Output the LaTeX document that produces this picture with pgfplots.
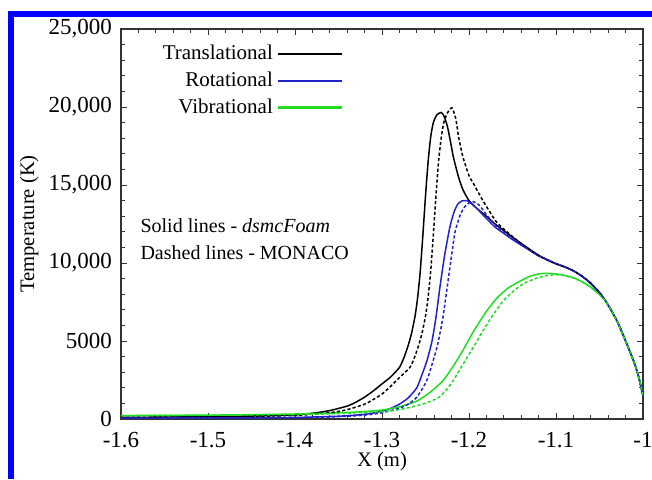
\documentclass[border=0pt]{standalone}
\usepackage{fontspec}
\setmainfont{Liberation Serif}
\usepackage{pgfplots}
\pgfplotsset{compat=1.18}
\definecolor{frameblue}{HTML}{0000FF}
\definecolor{rotblue}{HTML}{2222CC}
\definecolor{vibgreen}{HTML}{22DD22}
\definecolor{axisgray}{HTML}{333333}
\tikzset{
  mdash/.style={dash pattern=on 1.6pt off 1.1pt},
  tcurve/.style={line width=0.75pt, smooth, tension=0.35},
}
\begin{document}
\begin{tikzpicture}
\useasboundingbox (0,0) rectangle (326pt,239.5pt);
\fill[white] (0,0) rectangle (326pt,239.5pt);
\fill[frameblue] (4pt,231pt) rectangle (326pt,234pt);
\fill[frameblue] (4pt,0pt) rectangle (7pt,234pt);
\begin{axis}[
  at={(60.5pt,30pt)}, anchor=south west,
  width=261pt, height=195pt, scale only axis,
  xmin=-1.6, xmax=-1, ymin=0, ymax=25000,
  xtick={-1.6,-1.5,-1.4,-1.3,-1.2,-1.1,-1},
  xticklabels={-1.6,-1.5,-1.4,-1.3,-1.2,-1.1,-1},
  ytick={0,5000,10000,15000,20000,25000},
  yticklabels={0,5000,{10,000},{15,000},{20,000},{25,000}},
  minor x tick num=4, minor y tick num=4,
  tick align=inside, major tick length=3pt, minor tick length=1.8pt,
  axis line style={axisgray, line width=0.6pt},
  every tick/.style={axisgray, line width=0.5pt},
  tick label style={font=\fontsize{11.5}{13}\selectfont, black},
  xticklabel style={yshift=-3pt},
  yticklabel style={xshift=-1pt},
  scaled y ticks=false,
  xlabel={X (m)}, ylabel={Temperature (K)},
  label style={font=\fontsize{10.3}{12}\selectfont},
  xlabel style={at={(axis description cs:0.5,-0.11)}, anchor=center},
  ylabel style={at={(axis description cs:-0.176,0.5)}, anchor=center},
  legend style={at={(axis description cs:0.43,0.975)}, anchor=north east, draw=none, fill=none,
    font=\fontsize{10.5}{12}\selectfont, row sep=0.6pt, inner sep=1pt},
  legend cell align=right, legend plot pos=right,
  legend image code/.code={\draw[#1] (0pt,0pt) -- (32pt,0pt);},
]
% solid: dsmcFoam
\addplot[black, tcurve, forget plot] coordinates {
(-1.600,100) (-1.550,120) (-1.500,150) (-1.450,190) (-1.400,270) (-1.380,370) (-1.360,540)
(-1.340,830) (-1.330,1080) (-1.320,1400) (-1.310,1800) (-1.300,2250) (-1.290,2700) (-1.280,3300)
(-1.275,3900) (-1.270,4700) (-1.266,5500) (-1.262,6600) (-1.259,7800) (-1.256,9500) (-1.253,11800)
(-1.250,14300) (-1.247,16500) (-1.244,18100) (-1.241,19000) (-1.237,19500) (-1.232,19650)
(-1.229,19450) (-1.225,18800) (-1.221,17700) (-1.218,16800) (-1.212,15500) (-1.207,14700)
(-1.200,14000) (-1.191,13500) (-1.180,13000) (-1.170,12500) (-1.160,12080) (-1.150,11650)
(-1.140,11250) (-1.130,10870) (-1.120,10500) (-1.110,10200) (-1.100,9950) (-1.090,9750)
(-1.080,9500) (-1.070,9150) (-1.060,8700) (-1.050,8100) (-1.044,7650) (-1.040,7300)
(-1.030,6300) (-1.020,5000) (-1.010,3600) (-1.005,2700) (-1.000,1500)};
\addplot[rotblue, tcurve, forget plot] coordinates {
(-1.600,60) (-1.500,70) (-1.450,80) (-1.400,100) (-1.350,180) (-1.320,300) (-1.300,500)
(-1.290,680) (-1.280,950) (-1.270,1350) (-1.260,2000) (-1.253,3000) (-1.248,3800) (-1.2425,5000)
(-1.238,6500) (-1.2333,8500) (-1.228,10500) (-1.222,12300) (-1.217,13300) (-1.2126,13800)
(-1.208,13980) (-1.203,14000) (-1.198,13850) (-1.191,13500) (-1.180,12850) (-1.170,12300)
(-1.160,11900) (-1.150,11500) (-1.140,11150) (-1.130,10800) (-1.120,10450) (-1.110,10200)
(-1.100,9950) (-1.090,9750) (-1.080,9500) (-1.070,9150) (-1.060,8700) (-1.050,8100)
(-1.044,7650) (-1.040,7300) (-1.030,6300) (-1.020,5000) (-1.010,3600) (-1.005,2700) (-1.000,1500)};
\addplot[vibgreen, tcurve, forget plot] coordinates {
(-1.600,220) (-1.500,250) (-1.450,280) (-1.400,320) (-1.350,400) (-1.320,480) (-1.300,580)
(-1.280,780) (-1.260,1150) (-1.245,1700) (-1.230,2450) (-1.218,3400) (-1.207,4400) (-1.195,5600)
(-1.180,6900) (-1.168,7750) (-1.155,8400) (-1.141,8850) (-1.130,9150) (-1.120,9300) (-1.110,9340)
(-1.100,9300) (-1.090,9200) (-1.080,9050) (-1.070,8800) (-1.060,8450) (-1.050,7980) (-1.044,7640)
(-1.040,7300) (-1.030,6300) (-1.020,5000) (-1.010,3600) (-1.005,2700) (-1.000,1500)};
% dashed: MONACO
\addplot[black, tcurve, mdash, forget plot] coordinates {
(-1.600,100) (-1.500,140) (-1.450,170) (-1.400,230) (-1.380,300) (-1.360,400) (-1.340,600)
(-1.320,950) (-1.310,1250) (-1.300,1600) (-1.290,2100) (-1.280,2650) (-1.268,3300) (-1.263,3900)
(-1.258,4700) (-1.254,5500) (-1.250,6600) (-1.247,7800) (-1.244,9500) (-1.241,11800)
(-1.238,14300) (-1.235,16500) (-1.232,18000) (-1.229,19000) (-1.225,19600) (-1.2195,19950)
(-1.215,19200) (-1.212,18100) (-1.207,16800) (-1.200,15600) (-1.195,15100) (-1.184,14000)
(-1.168,12600) (-1.149,11650) (-1.140,11250) (-1.130,10850) (-1.120,10480) (-1.110,10200)
(-1.100,9950) (-1.090,9750) (-1.080,9500) (-1.070,9150) (-1.060,8700) (-1.050,8100)
(-1.044,7650) (-1.040,7300) (-1.030,6300) (-1.020,5000) (-1.010,3600) (-1.005,2700) (-1.000,1500)};
\addplot[rotblue, tcurve, mdash, forget plot] coordinates {
(-1.600,60) (-1.500,70) (-1.400,90) (-1.350,150) (-1.320,250) (-1.300,400) (-1.280,700)
(-1.270,950) (-1.260,1400) (-1.2483,2500) (-1.2368,4600) (-1.230,6500) (-1.2247,8600)
(-1.220,10500) (-1.216,12000) (-1.210,13100) (-1.205,13600) (-1.200,13850) (-1.195,13930)
(-1.188,13700) (-1.180,13100) (-1.170,12450) (-1.160,11980) (-1.150,11550) (-1.140,11180)
(-1.130,10820) (-1.120,10470) (-1.110,10220) (-1.100,9970) (-1.090,9760) (-1.080,9500)
(-1.070,9130) (-1.060,8680) (-1.050,8080) (-1.044,7640) (-1.040,7290) (-1.030,6300)
(-1.020,5000) (-1.010,3600) (-1.005,2700) (-1.000,1500)};
\addplot[vibgreen, tcurve, mdash, forget plot] coordinates {
(-1.600,220) (-1.500,240) (-1.400,290) (-1.350,350) (-1.300,470) (-1.280,600) (-1.260,850)
(-1.245,1120) (-1.233,1450) (-1.220,2300) (-1.207,3500) (-1.195,4600) (-1.184,5650)
(-1.172,6700) (-1.161,7550) (-1.150,8150) (-1.140,8580) (-1.133,8800) (-1.120,9070)
(-1.110,9200) (-1.100,9250) (-1.090,9190) (-1.080,9040) (-1.070,8790) (-1.060,8440)
(-1.050,7970) (-1.044,7630) (-1.040,7290) (-1.030,6290) (-1.020,4990) (-1.010,3590)
(-1.005,2690) (-1.000,1490)};
\addlegendimage{draw=black, line width=1.1pt}
\addlegendentry{Translational}
\addlegendimage{draw=rotblue, line width=1.1pt}
\addlegendentry{Rotational}
\addlegendimage{draw=vibgreen, line width=1.1pt}
\addlegendentry{Vibrational}
\node[anchor=west, font=\fontsize{10}{12}\selectfont, inner sep=0pt] at (axis cs:-1.578,12370) {Solid lines - \textit{dsmcFoam}};
\node[anchor=west, font=\fontsize{10}{12}\selectfont, inner sep=0pt] at (axis cs:-1.578,10640) {Dashed lines - MONACO};
\end{axis}
\end{tikzpicture}
\end{document}
